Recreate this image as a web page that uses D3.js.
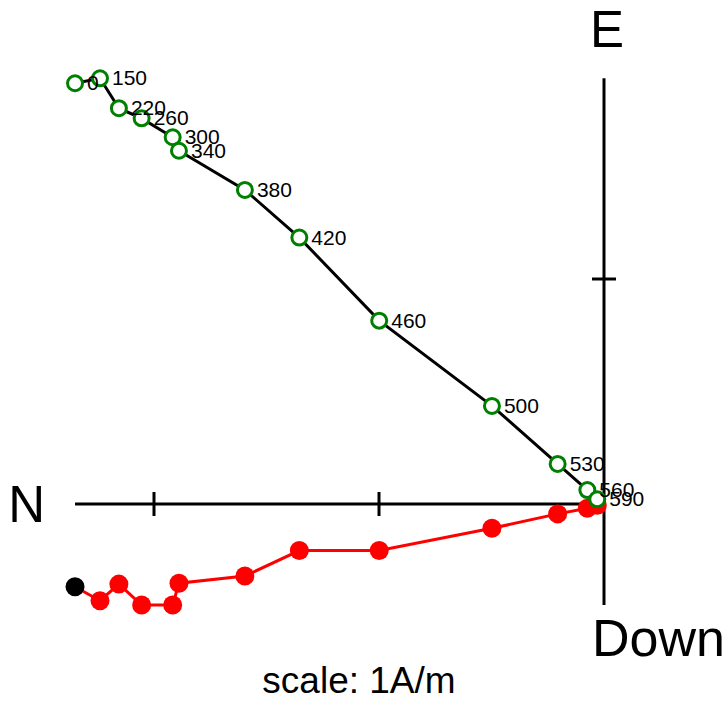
<!DOCTYPE html>
<html>
<head>
<meta charset="utf-8">
<script src="https://cdn.jsdelivr.net/npm/d3@7"></script>
<style>
html,body{margin:0;padding:0;background:#fff;}
svg{display:block;}
text{font-family:"Liberation Sans",Arial,Helvetica,sans-serif;}
</style>
</head>
<body>
<svg id="chart" width="727" height="701"></svg>
<script>
// Demagnetization steps (labels)
const steps = [0, 150, 220, 260, 300, 340, 380, 420, 460, 500, 530, 560, 590];
// Components in A/m
const north = [2.351, 2.240, 2.156, 2.055, 1.917, 1.889, 1.596, 1.354, 0.999, 0.498, 0.206, 0.074, 0.030];
const east  = [1.870, 1.892, 1.759, 1.714, 1.630, 1.570, 1.396, 1.184, 0.815, 0.436, 0.178, 0.062, 0.021];
const down  = [0.368, 0.430, 0.356, 0.449, 0.449, 0.352, 0.320, 0.207, 0.207, 0.108, 0.044, 0.019, 0.006];
const tickStep = 1; // A/m
const axisLabels = {north: "N", east: "E", down: "Down"};
const scaleLabel = "scale: 1A/m";

const svg = d3.select("#chart");
const ox = 604, oy = 504, unit = 225;
// N increases to the left, E increases upward, Down increases downward
const x = d3.scaleLinear().domain([0, 1]).range([ox, ox - unit]);
const yE = d3.scaleLinear().domain([0, 1]).range([oy, oy - unit]);
const yD = d3.scaleLinear().domain([0, 1]).range([oy, oy + unit]);

const data = steps.map((s, i) => ({step: s, n: north[i], e: east[i], d: down[i]}));
const maxN = d3.max(north), maxE = d3.max(east), maxD = d3.max(down);

// Axes
const ax = svg.append("g").attr("stroke", "#000").attr("stroke-width", 3);
ax.append("line").attr("x1", x(maxN)).attr("x2", x(0)).attr("y1", oy).attr("y2", oy);
ax.append("line").attr("x1", ox).attr("x2", ox).attr("y1", yE(maxE)).attr("y2", yD(maxD));
const tl = 12;
d3.range(tickStep, maxN, tickStep).forEach(v => {
  ax.append("line").attr("x1", x(v)).attr("x2", x(v)).attr("y1", oy - tl).attr("y2", oy + tl);
});
d3.range(tickStep, maxE, tickStep).forEach(v => {
  ax.append("line").attr("x1", ox - tl).attr("x2", ox + tl).attr("y1", yE(v)).attr("y2", yE(v));
});
d3.range(tickStep, maxD, tickStep).forEach(v => {
  ax.append("line").attr("x1", ox - tl).attr("x2", ox + tl).attr("y1", yD(v)).attr("y2", yD(v));
});

// Axis labels
svg.append("text").attr("x", x(maxN) - 30).attr("y", oy + 18).attr("text-anchor", "end")
  .attr("font-size", 51).text(axisLabels.north);
svg.append("text").attr("x", ox + 3).attr("y", 47).attr("text-anchor", "middle")
  .attr("font-size", 51).text(axisLabels.east);
svg.append("text").attr("x", 592).attr("y", 656).attr("text-anchor", "start")
  .attr("font-size", 52).text(axisLabels.down);
svg.append("text").attr("x", 359).attr("y", 693).attr("text-anchor", "middle")
  .attr("font-size", 37).text(scaleLabel);

// Vertical projection (N vs Down)
const lineD = d3.line().x(d => x(d.n)).y(d => yD(d.d));
svg.append("path").datum(data).attr("d", lineD).attr("fill", "none")
  .attr("stroke", "red").attr("stroke-width", 3);
svg.append("g").selectAll("circle").data(data).join("circle")
  .attr("cx", d => x(d.n)).attr("cy", d => yD(d.d)).attr("r", 9.5)
  .attr("fill", (d, i) => i === 0 ? "#000" : "red");

// Horizontal projection (N vs E)
const lineE = d3.line().x(d => x(d.n)).y(d => yE(d.e));
svg.append("path").datum(data).attr("d", lineE).attr("fill", "none")
  .attr("stroke", "#000").attr("stroke-width", 3);
svg.append("g").selectAll("circle").data(data).join("circle")
  .attr("cx", d => x(d.n)).attr("cy", d => yE(d.e)).attr("r", 7.5)
  .attr("fill", "#fff").attr("stroke", "green").attr("stroke-width", 3);
svg.append("g").selectAll("text").data(data).join("text")
  .attr("x", d => x(d.n) + 12).attr("y", d => yE(d.e) + 7)
  .attr("font-size", 21).attr("fill", "#000").text(d => d.step);
</script>
</body>
</html>
